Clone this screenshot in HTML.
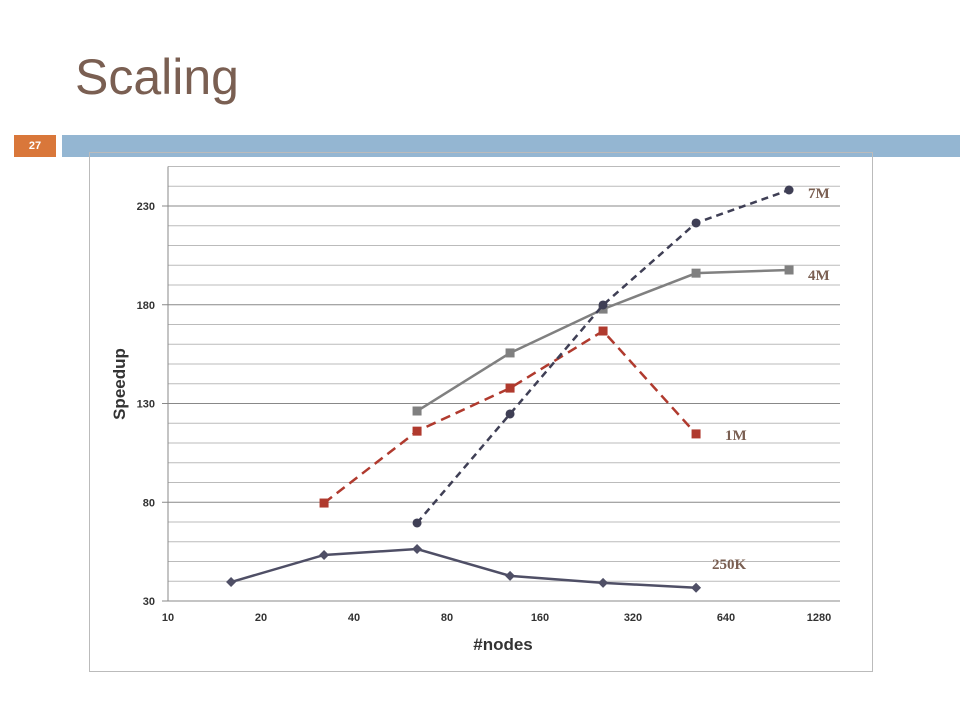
<!DOCTYPE html>
<html><head><meta charset="utf-8"><style>
body{margin:0;width:960px;height:720px;background:#fff;overflow:hidden;font-family:"Liberation Sans",sans-serif;position:relative}
</style></head><body>
<div style="position:absolute;left:75px;top:48px;font-size:50px;color:#7a5f52;font-family:'Liberation Sans',sans-serif">Scaling</div>
<div style="position:absolute;left:14px;top:135px;width:42px;height:22px;background:#d9773a;color:#fff;font-size:11px;font-weight:bold;text-align:center;line-height:22px">27</div>
<div style="position:absolute;left:62px;top:135px;width:898px;height:22px;background:#94b6d2"></div>
<svg id="chart" width="960" height="720" style="position:absolute;left:0;top:0">
<rect x="89.5" y="152.5" width="783" height="519" fill="none" stroke="#bbb"/>
</svg>
<script>
const xTicks=[10,20,40,80,160,320,640,1280];
const yTicks=[30,80,130,180,230];
const nodes=[16,32,64,128,256,512,1024];
const s250K=[39.6,53.3,56.3,42.7,39.2,36.7,null];
const s1M=[null,79.6,116,137.8,166.7,114.6,null];
const s4M=[null,null,126.2,155.6,177.8,196,197.6];
const s7M=[null,null,69.5,124.7,179.9,221.4,238.1];
const NS="http://www.w3.org/2000/svg",svg=document.getElementById('chart');
const x0=168,xs=93,y0=601,ys=1.975;
const X=v=>x0+Math.log2(v/10)*xs, Y=v=>y0-(v-30)*ys;
function mk(t,a,p){const e=document.createElementNS(NS,t);for(const k in a)e.setAttribute(k,a[k]);(p||svg).appendChild(e);return e;}
for(let v=30;v<=250;v+=10){const g=mk('line',{x1:x0,x2:840,y1:Y(v),y2:Y(v),stroke:(v-30)%50==0?'#888':'#bbb','stroke-width':1});

}
mk('line',{x1:x0,x2:x0,y1:Y(250),y2:y0,stroke:'#888'});
yTicks.forEach(v=>{const t=mk('text',{x:155,y:Y(v)+4,'text-anchor':'end','font-size':11,'font-weight':'bold',fill:'#333'});t.textContent=v;


mk('line',{x1:x0-6,x2:x0,y1:Y(v),y2:Y(v),stroke:'#888'});});
xTicks.forEach(v=>{const t=mk('text',{x:X(v),y:621,'text-anchor':'middle','font-size':11,'font-weight':'bold',fill:'#333'});t.textContent=v;

});
let t=mk('text',{x:503,y:650,'text-anchor':'middle','font-size':17,'font-weight':'bold',fill:'#333'});t.textContent='#nodes';


t=mk('text',{x:125,y:384,'text-anchor':'middle','font-size':17,'font-weight':'bold',fill:'#333',transform:'rotate(-90 125 384)'});t.textContent='Speedup';


function series(name,data,color,dash,marker,label,lx,ly){
 const pts=[];data.forEach((v,i)=>{if(v!=null)pts.push([X(nodes[i]),Y(v)]);});
 const p=mk('polyline',{points:pts.map(q=>q.join(',')).join(' '),fill:'none',stroke:color,'stroke-width':2.5,'stroke-dasharray':dash});
 
 
 pts.forEach(q=>{let m;
  if(marker=='circle')m=mk('circle',{cx:q[0],cy:q[1],r:4.5,fill:color});
  else if(marker=='square')m=mk('rect',{x:q[0]-4.5,y:q[1]-4.5,width:9,height:9,fill:color});
  else m=mk('polygon',{points:`${q[0]},${q[1]-5} ${q[0]+5},${q[1]} ${q[0]},${q[1]+5} ${q[0]-5},${q[1]}`,fill:color});
  
  });
 const l=mk('text',{x:lx,y:ly,'font-size':15,'font-weight':'bold',fill:'#7a5f52','font-family':'Liberation Serif, serif'});l.textContent=label;
 
 
}
series('250k',s250K,'#4f4f66','none','diamond','250K',712,569);
series('1m',s1M,'#b03a2e','10,6','square','1M',725,440);
series('4m',s4M,'#808080','none','square','4M',808,280);
series('7m',s7M,'#3f3f55','7,5','circle','7M',808,198);
</script>
</body></html>
